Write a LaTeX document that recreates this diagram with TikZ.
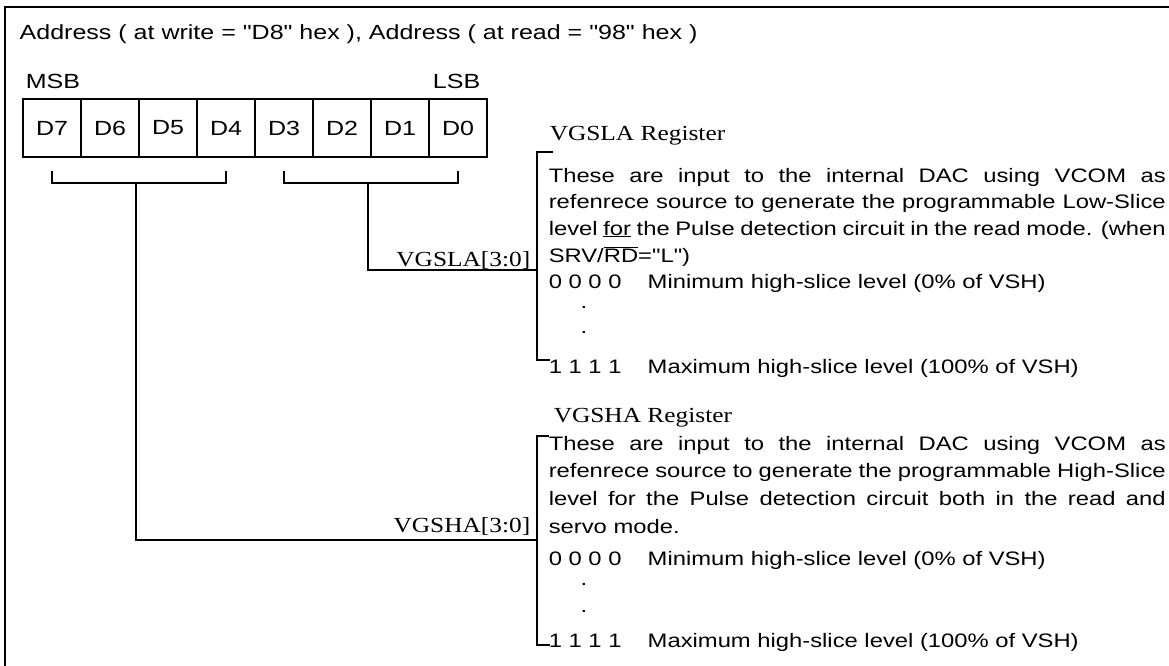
\documentclass[tikz,border=0pt]{standalone}
\usepackage{fontspec}
\newfontfamily\hsans{Liberation Sans}[FakeStretch=1.22]
\newfontfamily\tmsfont{Liberation Serif}[FakeStretch=1.18]
\begin{document}
\begin{tikzpicture}[x=1pt,y=-1pt,line width=1.5pt,
  sans/.style={inner sep=0pt,font=\hsans\fontsize{19.5}{23}\selectfont},
  bigsans/.style={inner sep=0pt,font=\hsans\fontsize{20.5}{24}\selectfont},
  serif/.style={inner sep=0pt,font=\tmsfont\fontsize{21.5}{25}\selectfont},
  bit/.style={draw,line width=1.8pt,minimum width=58pt,minimum height=58pt,inner sep=0pt,font=\hsans\fontsize{20.5}{24}\selectfont},
  wire/.style={line width=1.5pt},
  frame/.style={line width=1.3pt}]
\useasboundingbox (0,0) rectangle (1169,666);
% frame
\coordinate (fl) at (5,666);
\coordinate (fc) at (5,7);
\coordinate (fr) at (1169,7);
\draw[frame] (fl) -- (fc) -- (fr);
% header
\node[bigsans,anchor=base west] (addr) at (19,40) {Address ( at write = "D8" hex ), Address ( at read = "98" hex )};
\node[bigsans,anchor=base west] (msb) at (25,89) {MSB};
\node[bigsans,anchor=base east] (lsb) at (481,89) {LSB};
% bits
\foreach \i/\x in {7/52,6/110,5/168,4/226,3/284,2/342,1/400,0/458}
  \node[bit] (b\i) at (\x,128) {D\i};
% brackets under bits
\draw[wire] ([yshift=-13pt]b7.south) -- ([yshift=-25pt]b7.south) -- ([yshift=-25pt]b4.south) -- ([yshift=-13pt]b4.south);
\draw[wire] ([yshift=-13pt]b3.south) -- ([yshift=-25pt]b3.south) -- ([yshift=-25pt]b0.south) -- ([yshift=-13pt]b0.south);
\coordinate (hstem) at (136,182);
\coordinate (lstem) at (368,182);
% register brackets
\coordinate (laT) at (537,152);
\coordinate (laB) at (537,360);
\coordinate (laJ) at (537,270);
\coordinate (haT) at (537,436);
\coordinate (haB) at (537,645);
\coordinate (haJ) at (537,540);
\draw[wire] ([xshift=16pt]laT) -- (laT) -- (laB) -- ([xshift=13pt]laB);
\draw[wire] ([xshift=12pt]haT) -- (haT) -- (haB) -- ([xshift=13pt]haB);
\draw[wire] (lstem) |- (laJ);
\draw[wire] (hstem) |- (haJ);
% labels on wires
\node[serif,anchor=base east] (lalab) at (531,266) {VGSLA[3:0]};
\node[serif,anchor=base east] (halab) at (531,532) {VGSHA[3:0]};
% VGSLA register
\node[serif,anchor=base west] (latitle) at (549,140) {VGSLA Register};
\node[sans,anchor=base west] (la1) at (548,182) {\makebox[617pt][s]{These are input to the internal DAC using VCOM as}};
\node[sans,anchor=base west] (la2) at (548,208) {\makebox[617pt][s]{refenrece source to generate the programmable Low-Slice}};
\node[sans,anchor=base west] (la3) at (548,235) {\makebox[617pt][s]{level \underline{for} the Pulse detection circuit in the read mode. (when}};
\node[sans,anchor=base west] (la4) at (548,262) {SRV/\ensuremath{\overline{\hbox{RD}}}="L")};
\node[sans,anchor=base west] (la5) at (548,288) {\makebox[99pt][l]{0 0 0 0}Minimum high-slice level (0\% of VSH)};
\node[sans,anchor=base] (lad1) at (584,308) {.};
\node[sans,anchor=base] (lad2) at (584,333) {.};
\node[sans,anchor=base west] (la6) at (548,373) {\makebox[99pt][l]{1 1 1 1}Maximum high-slice level (100\% of VSH)};
% VGSHA register
\node[serif,anchor=base west] (hatitle) at (553,422) {VGSHA Register};
\node[sans,anchor=base west] (ha1) at (548,450) {\makebox[617pt][s]{These are input to the internal DAC using VCOM as}};
\node[sans,anchor=base west] (ha2) at (548,477) {\makebox[617pt][s]{refenrece source to generate the programmable High-Slice}};
\node[sans,anchor=base west] (ha3) at (548,505) {\makebox[617pt][s]{level for the Pulse detection circuit both in the read and}};
\node[sans,anchor=base west] (ha4) at (548,533) {servo mode.};
\node[sans,anchor=base west] (ha5) at (548,565) {\makebox[99pt][l]{0 0 0 0}Minimum high-slice level (0\% of VSH)};
\node[sans,anchor=base] (had1) at (584,585) {.};
\node[sans,anchor=base] (had2) at (584,612) {.};
\node[sans,anchor=base west] (ha6) at (548,647) {\makebox[99pt][l]{1 1 1 1}Maximum high-slice level (100\% of VSH)};
\end{tikzpicture}
\end{document}
